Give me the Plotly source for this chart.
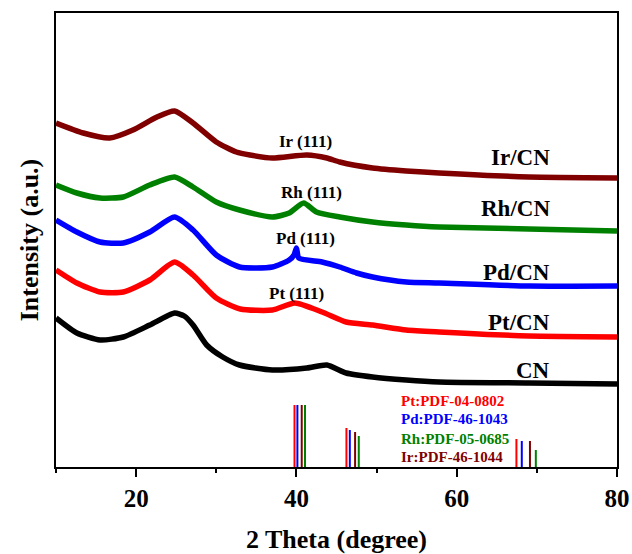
import plotly.graph_objects as go

# ---- XRD curves (2 theta, intensity a.u.) ----
cn_x = [10, 12.6, 15.5, 18.4, 21.7, 24.8, 26.0, 27.1, 28.8, 30.8, 32.9, 37.0, 41.3, 43.8, 46.2, 49.5, 53.7, 57.8, 69, 80]
cn_y = [149, 134, 127, 130, 142, 154, 151, 142, 122, 110, 102, 97, 99, 102, 94, 90, 87, 85, 84, 83]

pt_x = [10, 12.6, 15.5, 18.4, 21.7, 24.8, 27.1, 30.0, 33.0, 37.0, 39.8, 43.2, 46.2, 49.5, 53.7, 57.8, 69, 80]
pt_y = [197, 184, 175, 175, 187, 205, 192, 169, 158, 157, 164, 155, 145, 142, 137, 135, 131, 130]

pd_x = [10, 12.6, 15.5, 18.4, 21.7, 24.8, 27.1, 30.0, 32.9, 37.0, 39.1, 39.7, 40.0, 40.3, 43.2, 45.4, 47.5, 49.5, 53.7, 57.8, 69, 80]
pd_y = [247, 235, 225, 224, 235, 250, 237, 212, 200, 200, 207, 212, 219, 209, 205, 200, 194, 190, 185, 184, 181, 181]

rh_x = [10, 12.6, 15.5, 18.4, 21.7, 24.8, 27.1, 30.0, 32.9, 37.0, 39.1, 40.9, 42.5, 45.4, 49.5, 53.7, 57.8, 69, 80]
rh_y = [282, 274, 269, 270, 282, 290, 280, 265, 257, 250, 254, 264, 255, 250, 245, 242, 240, 238, 236]

ir_x = [10, 13.4, 16.7, 19.6, 22.6, 24.8, 27.1, 30.0, 32.5, 34.2, 37.0, 41.3, 43.8, 45.4, 49.5, 53.7, 57.8, 69, 80]
ir_y = [344, 334, 329, 337, 350, 356, 344, 325, 315, 312, 309, 312, 309, 305, 299, 296, 294, 290, 289]

# ---- reference patterns (PDF cards): positions and relative heights ----
pt_ref_pos = [39.76, 46.24, 67.45]
pt_ref_h = [62, 39, 28]
pd_ref_pos = [40.12, 46.66, 68.12]
pd_ref_h = [62, 37, 26]
ir_ref_pos = [40.66, 47.32, 69.14]
ir_ref_h = [62, 35, 26]
rh_ref_pos = [41.07, 47.78, 69.87]
rh_ref_h = [62, 31, 17]

RED = "#FF0000"
BLUE = "#0000FF"
GREEN = "#008000"
BROWN = "#800000"
BLACK = "#000000"

FONT = "Liberation Serif"

fig = go.Figure()

curves = [
    (cn_x, cn_y, BLACK, "CN"),
    (pt_x, pt_y, RED, "Pt/CN"),
    (pd_x, pd_y, BLUE, "Pd/CN"),
    (rh_x, rh_y, GREEN, "Rh/CN"),
    (ir_x, ir_y, BROWN, "Ir/CN"),
]
for xs, ys, col, name in curves:
    fig.add_trace(go.Scatter(x=xs, y=ys, mode="lines", name=name,
                             line=dict(color=col, width=5.5, shape="spline", smoothing=0.6),
                             showlegend=False))

refs = [
    (pt_ref_pos, pt_ref_h, RED),
    (pd_ref_pos, pd_ref_h, BLUE),
    (ir_ref_pos, ir_ref_h, BROWN),
    (rh_ref_pos, rh_ref_h, GREEN),
]
for pos, hs, col in refs:
    xs, ys = [], []
    for p, h in zip(pos, hs):
        xs += [p, p, None]
        ys += [0, h, None]
    fig.add_trace(go.Scatter(x=xs, y=ys, mode="lines", line=dict(color=col, width=2),
                             showlegend=False))

annotations = []
# sample labels
for text, yv in [("Ir/CN", 310), ("Rh/CN", 259), ("Pd/CN", 195), ("Pt/CN", 145), ("CN", 97)]:
    annotations.append(dict(x=71.9, y=yv, xref="x", yref="y", text=text, showarrow=False,
                            xanchor="right", yanchor="middle",
                            font=dict(family=FONT, size=23, color="black", weight="bold")))
# peak labels
for text, xv, yv in [("Ir (111)", 41.1, 326), ("Rh (111)", 41.9, 275), ("Pd (111)", 41.1, 229), ("Pt (111)", 40.0, 174)]:
    annotations.append(dict(x=xv, y=yv, xref="x", yref="y", text=text, showarrow=False,
                            xanchor="center", yanchor="middle",
                            font=dict(family=FONT, size=17, color="black", weight="bold")))
# card labels
for text, yv, col in [("Pt:PDF-04-0802", 66, RED), ("Pd:PDF-46-1043", 48, BLUE),
                      ("Rh:PDF-05-0685", 28, GREEN), ("Ir:PDF-46-1044", 10, BROWN)]:
    annotations.append(dict(x=52.8, y=yv, xref="x", yref="y", text=text, showarrow=False,
                            xanchor="left", yanchor="middle",
                            font=dict(family=FONT, size=15, color=col, weight="bold")))

fig.update_layout(
    width=632, height=554,
    margin=dict(l=56, r=15, t=13, b=87, autoexpand=False),
    paper_bgcolor="white", plot_bgcolor="white",
    annotations=annotations,
    xaxis=dict(range=[10, 80], tickvals=[20, 40, 60, 80], ticktext=["20", "40", "60", "80"],
               automargin=False,
               ticks="outside", ticklen=8, tickwidth=2, tickcolor="black",
               minor=dict(ticks="outside", ticklen=4, tickwidth=2, tickcolor="black",
                          tickvals=[10, 30, 50, 70]),
               showline=True, linecolor="black", linewidth=2, mirror=True,
               showgrid=False, zeroline=False,
               tickfont=dict(family=FONT, size=25, color="black", weight="bold"),
               title=dict(text="2 Theta (degree)", standoff=20,
                          font=dict(family=FONT, size=26, color="black", weight="bold"))),
    yaxis=dict(range=[0, 454], showticklabels=False, ticks="", automargin=False,
               showline=True, linecolor="black", linewidth=2, mirror=True,
               showgrid=False, zeroline=False,
               title=dict(text="Intensity (a.u.)", standoff=8,
                          font=dict(family=FONT, size=26, color="black", weight="bold"))),
)

fig.write_html("out.html")
